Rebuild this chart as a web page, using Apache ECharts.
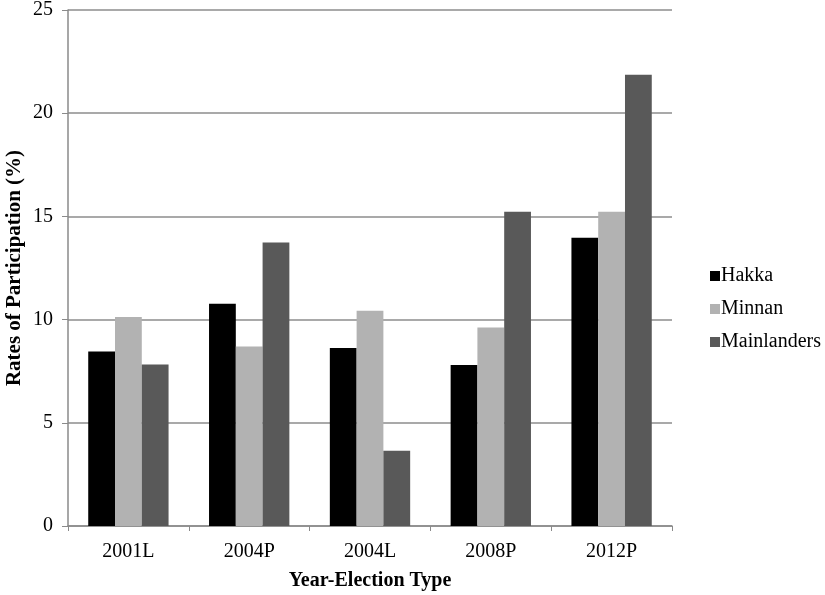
<!DOCTYPE html>
<html>
<head>
<meta charset="utf-8">
<script src="https://cdn.jsdelivr.net/npm/echarts@6/dist/echarts.min.js"></script>
<style>html,body{margin:0;padding:0;background:#fff}#c{width:825px;height:595px}</style>
</head>
<body>
<div id="c"></div>
<script>
const categories = ['2001L', '2004P', '2004L', '2008P', '2012P'];
const hakka = [8.45, 10.77, 8.63, 7.8, 13.97];
const minnan = [10.13, 8.7, 10.43, 9.62, 15.22];
const mainlanders = [7.82, 13.73, 3.65, 15.23, 21.86];
const yTicks = { min: 0, max: 25, interval: 5 };

const font = 'Liberation Serif';
const chart = echarts.init(document.getElementById('c'), null, { renderer: 'canvas' });
const barStyle = (c) => ({ color: c });
chart.setOption({
  animation: false,
  textStyle: { fontFamily: font },
  grid: { left: 68, right: 153, top: 10, bottom: 69, containLabel: false, outerBoundsMode: 'none' },
  legend: {
    orient: 'vertical', left: 705, top: 261, itemWidth: 10, itemHeight: 10, itemGap: 13,
    icon: 'rect',
    textStyle: { fontFamily: font, fontSize: 20, color: '#000', padding: [0, 0, 0, -4] },
    data: ['Hakka', 'Minnan', 'Mainlanders']
  },
  xAxis: {
    type: 'category', data: categories,
    name: 'Year-Election Type', nameLocation: 'middle', nameGap: 45,
    nameTextStyle: { fontFamily: font, fontSize: 20, fontWeight: 'bold', color: '#000' },
    axisLine: { lineStyle: { color: '#8a8a8a', width: 1.5 } },
    axisTick: { show: true, length: 5, lineStyle: { color: '#8a8a8a' } },
    axisLabel: { fontFamily: font, fontSize: 20, color: '#000', margin: 16 }
  },
  yAxis: {
    type: 'value', min: yTicks.min, max: yTicks.max, interval: yTicks.interval,
    name: 'Rates of Participation (%)', nameLocation: 'middle', nameGap: 43, nameRotate: 90,
    nameMoveOverlap: false,
    nameTextStyle: { fontFamily: font, fontSize: 21, fontWeight: 'bold', color: '#000' },
    axisLine: { show: true, lineStyle: { color: '#8a8a8a', width: 1.5 } },
    axisTick: { show: true, length: 6, lineStyle: { color: '#8a8a8a' } },
    axisLabel: { fontFamily: font, fontSize: 20, color: '#000', margin: 15 },
    splitLine: { lineStyle: { color: '#8c8c8c', width: 1.5 } }
  },
  series: [
    { name: 'Hakka', type: 'bar', data: hakka, itemStyle: barStyle('#000000'), barGap: '0%', barCategoryGap: '33.5%' },
    { name: 'Minnan', type: 'bar', data: minnan, itemStyle: barStyle('#b2b2b2'), barGap: '0%', barCategoryGap: '33.5%' },
    { name: 'Mainlanders', type: 'bar', data: mainlanders, itemStyle: barStyle('#595959'), barGap: '0%', barCategoryGap: '33.5%' }
  ]
});
</script>
</body>
</html>
